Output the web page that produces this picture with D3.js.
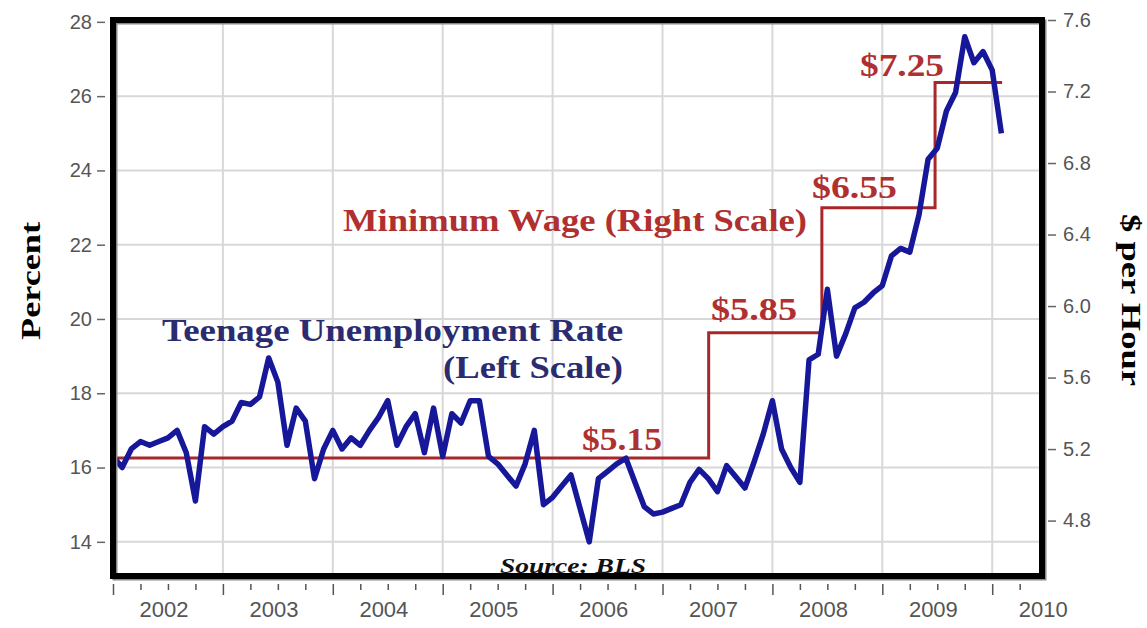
<!DOCTYPE html>
<html>
<head>
<meta charset="utf-8">
<script src="https://cdn.jsdelivr.net/npm/d3@7"></script>
<style>
  body { margin: 0; background: #fff; }
  svg { display: block; }
</style>
</head>
<body>
<svg id="chart" width="1147" height="628"></svg>
<script>
// Teenage (16-19) unemployment rate, monthly from Jan 2002 to Feb 2010, percent
const teenRate2002 = [16.3, 16.0, 16.5, 16.7, 16.6, 16.7, 16.8, 17.0, 16.4, 15.1, 17.1, 16.9];
const teenRate2003 = [17.1, 17.25, 17.75, 17.7, 17.9, 18.95, 18.3, 16.6, 17.6, 17.25, 15.7, 16.5];
const teenRate2004 = [17.0, 16.5, 16.8, 16.6, 17.0, 17.35, 17.8, 16.6, 17.1, 17.45, 16.4, 17.6];
const teenRate2005 = [16.3, 17.45, 17.2, 17.8, 17.8, 16.3, 16.1, 15.8, 15.5, 16.1, 17.0, 15.0];
const teenRate2006 = [15.2, 15.5, 15.8, 14.9, 14.0, 15.7, 15.9, 16.1, 16.25, 15.6, 14.95, 14.75];
const teenRate2007 = [14.8, 14.9, 15.0, 15.6, 15.95, 15.7, 15.35, 16.05, 15.75, 15.45, 16.15, 16.9];
const teenRate2008 = [17.8, 16.5, 16.0, 15.6, 18.9, 19.05, 20.8, 19.0, 19.6, 20.3, 20.45, 20.7];
const teenRate2009 = [20.9, 21.7, 21.9, 21.8, 22.8, 24.3, 24.6, 25.6, 26.1, 27.6, 26.9, 27.2];
const teenRate2010 = [26.7, 25.0];

// Federal minimum wage, dollars per hour, with the dates each level took effect
const wageStart = [2002.0, 2007.42, 2008.45, 2009.48];
const wageRate = [5.15, 5.85, 6.55, 7.25];
const wageEnd = 2010.09;

// Axis ticks
const yearTicks = [2002, 2003, 2004, 2005, 2006, 2007, 2008, 2009, 2010];
const percentTicks = [14, 16, 18, 20, 22, 24, 26, 28];
const dollarTicks = [4.8, 5.2, 5.6, 6.0, 6.4, 6.8, 7.2, 7.6];

const teenRate = [].concat(teenRate2002, teenRate2003, teenRate2004, teenRate2005,
  teenRate2006, teenRate2007, teenRate2008, teenRate2009, teenRate2010);
const teenSeries = teenRate.map((v, i) => ({ t: 2002 + i / 12, v }));
const wageSeries = wageStart.map((t, i) => ({ t, v: wageRate[i] }))
  .concat([{ t: wageEnd, v: wageRate[wageRate.length - 1] }]);

const svg = d3.select("#chart");
const plot = { left: 113, right: 1042, top: 20, bottom: 576 };

const x = d3.scaleLinear().domain([2002, 2010.453]).range([plot.left, plot.right]);
const yL = d3.scaleLinear().domain([13.08, 28.05]).range([plot.bottom, plot.top]);
const yR = d3.scaleLinear().domain([4.49, 7.6]).range([plot.bottom, plot.top]);

const serif = "'Liberation Serif', 'Times New Roman', serif";
const sans = "'Liberation Sans', Arial, sans-serif";

// Grid
const grid = svg.append("g").attr("stroke", "#d8d8d8").attr("stroke-width", 2);
grid.selectAll("line.h").data(percentTicks.filter(d => d < 28)).join("line")
  .attr("x1", plot.left).attr("x2", plot.right)
  .attr("y1", d => yL(d)).attr("y2", d => yL(d));
grid.selectAll("line.v").data(yearTicks.slice(1)).join("line")
  .attr("y1", plot.top).attr("y2", plot.bottom)
  .attr("x1", d => x(d)).attr("x2", d => x(d));

// Minimum wage step line (right scale)
svg.append("path")
  .datum(wageSeries)
  .attr("fill", "none")
  .attr("stroke", "#a8282a")
  .attr("stroke-width", 3)
  .attr("d", d3.line().x(d => x(d.t)).y(d => yR(d.v)).curve(d3.curveStepAfter));

// Teen unemployment line (left scale)
svg.append("path")
  .datum(teenSeries)
  .attr("fill", "none")
  .attr("stroke", "#17179a")
  .attr("stroke-width", 5.5)
  .attr("stroke-linejoin", "round")
  .attr("d", d3.line().x(d => x(d.t)).y(d => yL(d.v)));

// Annotations
const red = "#b03030";
const navy = "#2b2b70";
function label(txt, px, py, size, len, color, anchor, style) {
  svg.append("text")
    .attr("x", px).attr("y", py)
    .attr("font-family", serif).attr("font-weight", "bold")
    .attr("font-style", style || "normal")
    .attr("font-size", size).attr("fill", color)
    .attr("text-anchor", anchor || "start")
    .attr("textLength", len).attr("lengthAdjust", "spacingAndGlyphs")
    .text(txt);
}
const fmt = d3.format("$.2f");
label(fmt(wageRate[0]), 582, 450, 31, 80, red);
label(fmt(wageRate[1]), 711, 320, 31, 86, red);
label(fmt(wageRate[2]), 812, 198, 31, 85, red);
label(fmt(wageRate[3]), 860, 76, 31, 84, red);
label("Minimum Wage (Right Scale)", 343, 231, 31, 464, red);
label("Teenage Unemployment Rate", 162, 341, 32, 461, navy);
label("(Left Scale)", 443, 378, 32, 180, navy);
label("Source: BLS", 500, 573, 21, 146, "#111", "start", "italic");

// Frame with a soft shadow
svg.append("rect")
  .attr("x", plot.left + 2).attr("y", plot.top + 2)
  .attr("width", plot.right - plot.left).attr("height", plot.bottom - plot.top)
  .attr("fill", "none").attr("stroke", "#888").attr("stroke-width", 5);
svg.append("rect")
  .attr("x", plot.left).attr("y", plot.top)
  .attr("width", plot.right - plot.left).attr("height", plot.bottom - plot.top)
  .attr("fill", "none").attr("stroke", "#000").attr("stroke-width", 6);

// Left axis
const leftAxis = svg.append("g")
  .attr("transform", `translate(${plot.left - 8},0)`)
  .call(d3.axisLeft(yL).tickValues(percentTicks).tickSize(8).tickPadding(5));
// Right axis
const rightAxis = svg.append("g")
  .attr("transform", `translate(${plot.right + 6},0)`)
  .call(d3.axisRight(yR).tickValues(dollarTicks).tickSize(8).tickPadding(7)
    .tickFormat(d3.format(".1f")));
[leftAxis, rightAxis].forEach(g => {
  g.select(".domain").remove();
  g.selectAll("line").attr("stroke", "#666").attr("stroke-width", 1.5);
  g.selectAll("text").attr("font-family", sans).attr("font-size", 20).attr("fill", "#555");
});

// Bottom axis: year ticks, quarter ticks, mid-year labels
const axisY = plot.bottom + 8;
const quarterTicks = d3.range(2002, 2010.3, 0.25).filter(d => d % 1 !== 0);
const major = svg.append("g").attr("transform", `translate(0,${axisY})`)
  .call(d3.axisBottom(x).tickValues(yearTicks).tickSize(11).tickFormat(""));
const minor = svg.append("g").attr("transform", `translate(0,${axisY})`)
  .call(d3.axisBottom(x).tickValues(quarterTicks).tickSize(6).tickFormat(""));
const yearLabels = svg.append("g").attr("transform", `translate(0,${axisY})`)
  .call(d3.axisBottom(x).tickValues(yearTicks.map(d => d + 0.46)).tickSize(0).tickPadding(17)
    .tickFormat(d => String(Math.floor(d))));
[major, minor, yearLabels].forEach(g => {
  g.select(".domain").remove();
  g.selectAll("line").attr("stroke", "#555").attr("stroke-width", 1.5);
  g.selectAll("text").attr("font-family", sans).attr("font-size", 22).attr("fill", "#555");
});

// Axis titles
svg.append("text")
  .attr("transform", `translate(40,281) rotate(-90)`)
  .attr("text-anchor", "middle")
  .attr("font-family", serif).attr("font-weight", "bold").attr("font-size", 28)
  .attr("textLength", 118).attr("lengthAdjust", "spacingAndGlyphs")
  .text("Percent");
svg.append("text")
  .attr("transform", `translate(1122,300) rotate(90)`)
  .attr("text-anchor", "middle")
  .attr("font-family", serif).attr("font-weight", "bold").attr("font-size", 27)
  .attr("textLength", 172).attr("lengthAdjust", "spacingAndGlyphs")
  .text("$ per Hour");
</script>
</body>
</html>
